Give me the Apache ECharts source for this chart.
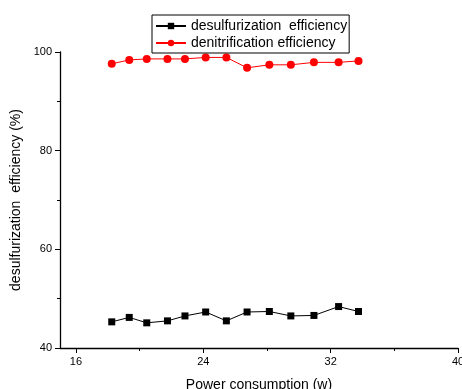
<!DOCTYPE html>
<html>
<head>
<meta charset="utf-8">
<script src="https://cdn.jsdelivr.net/npm/echarts@6/dist/echarts.min.js"></script>
<style>
  html, body { margin: 0; padding: 0; background: #fff; }
  #chart { width: 462px; height: 389px; }
</style>
</head>
<body>
<div id="chart"></div>
<script>
// power consumption (w)
const power = [18.25, 19.35, 20.45, 21.75, 22.85, 24.15, 25.45, 26.75, 28.15, 29.5, 30.95, 32.5, 33.75]
const desulfurization = [45.3, 46.2, 45.1, 45.5, 46.5, 47.3, 45.5, 47.3, 47.4, 46.5, 46.6, 48.4, 47.4]
const denitrification = [97.6, 98.4, 98.6, 98.6, 98.6, 98.9, 98.9, 96.8, 97.4, 97.4, 97.9, 97.9, 98.2]
const xMajor = [16, 24, 32, 40]
const xMinor = [20, 28, 36]

const font = 'Liberation Sans, Arial, sans-serif'
const chart = echarts.init(document.getElementById('chart'))

chart.setOption({
  animation: false,
  grid: { left: 60, right: 4, top: 52, bottom: 41, outerBoundsMode: 'none' },
  legend: {
    orient: 'vertical',
    left: 152,
    top: 15,
    padding: [4, 2, 3, 3],
    itemGap: 3,
    itemWidth: 30,
    itemHeight: 8,
    itemTextGap: 5,
    borderColor: '#000',
    borderWidth: 1,
    borderRadius: 0,
    textStyle: { fontFamily: font, fontSize: 14, color: '#000' },
    data: ['desulfurization  efficiency', 'denitrification efficiency']
  },
  xAxis: [{
    type: 'value',
    min: 15,
    max: 40,
    name: 'Power consumption (w)',
    nameLocation: 'middle',
    nameGap: 30,
    nameTextStyle: { fontFamily: font, fontSize: 14, color: '#000' },
    axisLine: { lineStyle: { color: '#000', width: 1.3 } },
    axisTick: { customValues: xMajor, length: 5, lineStyle: { color: '#000' } },
    axisLabel: { customValues: xMajor, fontFamily: font, fontSize: 11, color: '#000', margin: 8 },
    splitLine: { show: false }
  }, {
    type: 'value',
    min: 15,
    max: 40,
    position: 'bottom',
    axisLine: { show: false },
    axisTick: { customValues: xMinor, length: 3, lineStyle: { color: '#000' } },
    axisLabel: { show: false },
    splitLine: { show: false }
  }],
  yAxis: {
    type: 'value',
    min: 40,
    max: 100,
    interval: 20,
    name: 'desulfurization  efficiency (%)',
    nameLocation: 'middle',
    nameGap: 34,
    nameTextStyle: { fontFamily: font, fontSize: 14, color: '#000' },
    axisLine: { show: true, lineStyle: { color: '#000', width: 1.3 } },
    axisTick: { show: true, length: 5, lineStyle: { color: '#000' } },
    minorTick: { show: true, splitNumber: 2, length: 3, lineStyle: { color: '#000' } },
    axisLabel: { fontFamily: font, fontSize: 11, color: '#000', margin: 8 },
    splitLine: { show: false }
  },
  series: [{
    name: 'desulfurization  efficiency',
    type: 'line',
    data: power.map((p, i) => [p, desulfurization[i]]),
    symbol: 'rect',
    symbolSize: 7,
    color: '#000',
    lineStyle: { color: '#000', width: 1 },
    itemStyle: { color: '#000' }
  }, {
    name: 'denitrification efficiency',
    type: 'line',
    data: power.map((p, i) => [p, denitrification[i]]),
    symbol: 'circle',
    symbolSize: 8,
    color: '#ff0000',
    lineStyle: { color: '#ff0000', width: 1 },
    itemStyle: { color: '#ff0000' }
  }]
})
</script>
</body>
</html>
